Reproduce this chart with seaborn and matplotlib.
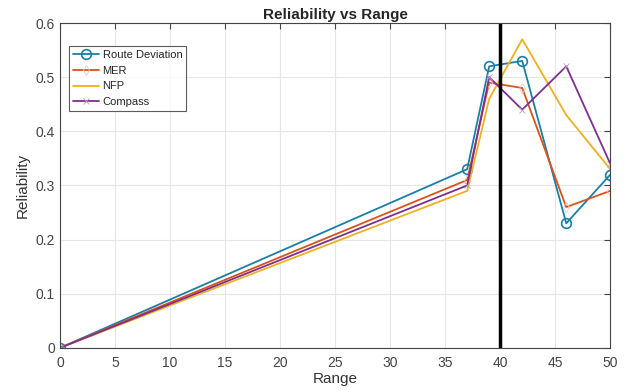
import matplotlib
matplotlib.use("Agg")
import matplotlib.pyplot as plt
import seaborn as sns
import pandas as pd

range_vals = [0, 37, 39, 42, 46, 50]
route_dev = [0.0, 0.33, 0.52, 0.53, 0.23, 0.32]
mer = [0.0, 0.31, 0.49, 0.48, 0.26, 0.29]
nfp = [0.0, 0.29, 0.46, 0.57, 0.43, 0.33]
compass = [0.0, 0.30, 0.50, 0.44, 0.52, 0.34]
series_names = ["Route Deviation", "MER", "NFP", "Compass"]

sns.set_style("whitegrid")
plt.rcParams['font.family'] = ['Liberation Sans', 'DejaVu Sans']

fig = plt.figure(figsize=(6.24, 3.9), dpi=100)
ax = fig.add_axes([0.096, 0.108, 0.882, 0.833])

styles = {
    "Route Deviation": dict(color="#1a7fa8", marker="o", markersize=7, markerfacecolor="none",
                            markeredgecolor="#1a7fa8", markeredgewidth=1.2),
    "MER": dict(color="#D95319", marker="d", markersize=5, markerfacecolor="none",
                markeredgecolor="#e8c8c0", markeredgewidth=0.6),
    "NFP": dict(color="#EDB120", marker=None),
    "Compass": dict(color="#7E2F8E", marker="x", markersize=5, markeredgecolor="#b89ac0",
                    markeredgewidth=0.6),
}
data = {"Route Deviation": route_dev, "MER": mer, "NFP": nfp, "Compass": compass}

for name in series_names:
    df = pd.DataFrame({"Range": range_vals, "Reliability": data[name]})
    sns.lineplot(data=df, x="Range", y="Reliability", ax=ax, label=name,
                 linewidth=1.3, **styles[name])

ax.axvline(40, color="black", linewidth=2.5)

ax.set_xlim(0, 50)
ax.set_ylim(0, 0.6)
ax.set_xticks(range(0, 51, 5))
ax.set_yticks([0, 0.1, 0.2, 0.3, 0.4, 0.5, 0.6])
ax.set_yticklabels(["0", "0.1", "0.2", "0.3", "0.4", "0.5", "0.6"])
ax.grid(True, color="#e6e6e6", linewidth=0.8)
for s in ax.spines.values():
    s.set_visible(True)
    s.set_color("#444444")
    s.set_linewidth(0.8)
ax.tick_params(direction="in", top=True, right=True, length=4, labelsize=10,
               colors="#444444", labelcolor="#444444")
ax.tick_params(axis="x", pad=6)
ax.set_xlabel("Range", fontsize=11, color="#333333", labelpad=1)
ax.set_ylabel("Reliability", fontsize=11, color="#333333")
ax.set_title("Reliability vs Range", fontsize=11, fontweight="bold", pad=3)

leg = ax.legend(loc="upper left", bbox_to_anchor=(0.016, 0.928), frameon=True, fancybox=False,
                edgecolor="#333333", fontsize=8, borderpad=0.35, labelspacing=0.5,
                handlelength=2.4, handletextpad=0.3, borderaxespad=0)
leg.get_frame().set_linewidth(0.8)

fig.savefig("out.png", dpi=100)
